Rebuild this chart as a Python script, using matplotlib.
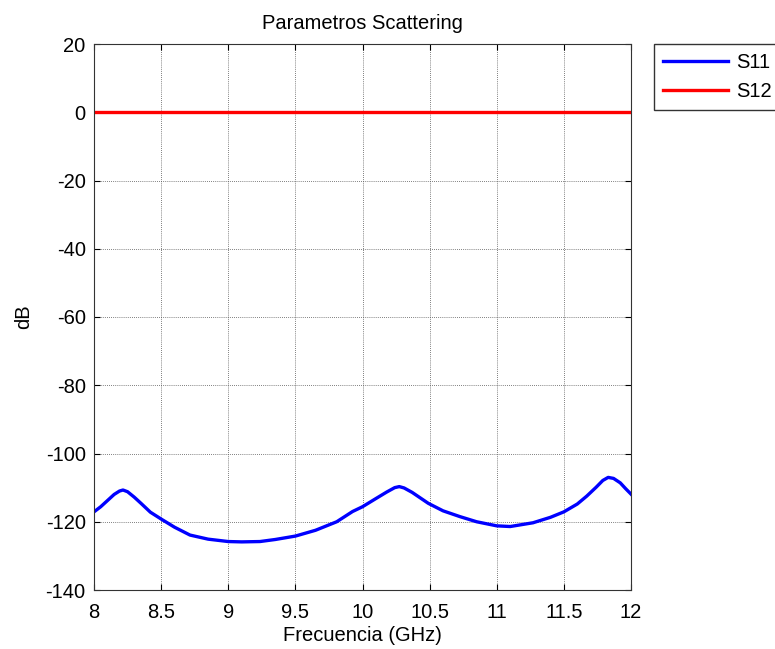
import numpy as np
import matplotlib
matplotlib.use("Agg")
import matplotlib.pyplot as plt

# S11 (GHz, dB)
freq = [8.00, 8.05, 8.10, 8.15, 8.19, 8.216, 8.25, 8.30, 8.35, 8.42, 8.50, 8.60,
        8.715, 8.85, 9.00, 9.10, 9.236, 9.35, 9.50, 9.65, 9.808, 9.926, 10.00,
        10.10, 10.18, 10.24, 10.274, 10.31, 10.37, 10.49, 10.60, 10.726, 10.85,
        11.00, 11.10, 11.27, 11.40, 11.50, 11.60, 11.67, 11.74, 11.79, 11.83,
        11.87, 11.92, 11.96, 12.00]
s11 = [-117.1, -115.6, -113.8, -112.0, -111.0, -110.7, -111.2, -112.8, -114.6,
       -117.2, -119.2, -121.6, -123.9, -125.1, -125.8, -125.9, -125.8, -125.2,
       -124.2, -122.5, -120.0, -117.0, -115.6, -113.2, -111.3, -110.0, -109.7,
       -110.1, -111.4, -114.6, -116.8, -118.5, -120.0, -121.2, -121.4, -120.3,
       -118.7, -117.1, -114.8, -112.5, -109.9, -107.9, -107.0, -107.3, -108.6,
       -110.3, -111.9]
s12 = [0.0, 0.0]
freq12 = [8.0, 12.0]

plt.rcParams.update({"font.family": "Liberation Sans", "font.size": 14.5,
                     "axes.unicode_minus": False})

fig = plt.figure(figsize=(7.75, 6.49), dpi=100)
ax = fig.add_axes([94 / 775, 59 / 649, 537 / 775, 546 / 649])

ax.plot(freq, s11, color="#0000ff", lw=2.4, label="S11")
ax.plot(freq12, s12, color="#ff0000", lw=2.4, label="S12")

ax.set_xlim(8, 12)
ax.set_ylim(-140, 20)
ax.set_xticks(np.arange(8, 12.01, 0.5))
ax.set_xticklabels(["8", "8.5", "9", "9.5", "10", "10.5", "11", "11.5", "12"])
ax.set_yticks(np.arange(-140, 21, 20))
ax.tick_params(direction="in", length=4, width=0.8, top=True, right=True,
               labelsize=14.5, colors="black")
ax.tick_params(axis="x", pad=9.5)
ax.tick_params(axis="y", pad=6)
ax.grid(True, color="#555555", linestyle=(0, (1, 1.5)), linewidth=0.6)
for s in ax.spines.values():
    s.set_linewidth(0.8)
    s.set_color("#333333")

ax.set_title("Parametros Scattering", fontsize=14.5, pad=11)
ax.set_xlabel("Frecuencia (GHz)", fontsize=14.5, labelpad=3)
ax.set_ylabel("dB", fontsize=14.5, labelpad=9)

leg = fig.legend(loc="upper left", bbox_to_anchor=(654 / 775, 1 - 44 / 649),
                 fontsize=14.5, frameon=True, fancybox=False, borderaxespad=0,
                 handlelength=3.2, handletextpad=0.45, labelspacing=0.5,
                 borderpad=0.45)
leg.get_frame().set_edgecolor("black")
leg.get_frame().set_linewidth(1.0)

fig.savefig("out.png", dpi=100, facecolor="white")
